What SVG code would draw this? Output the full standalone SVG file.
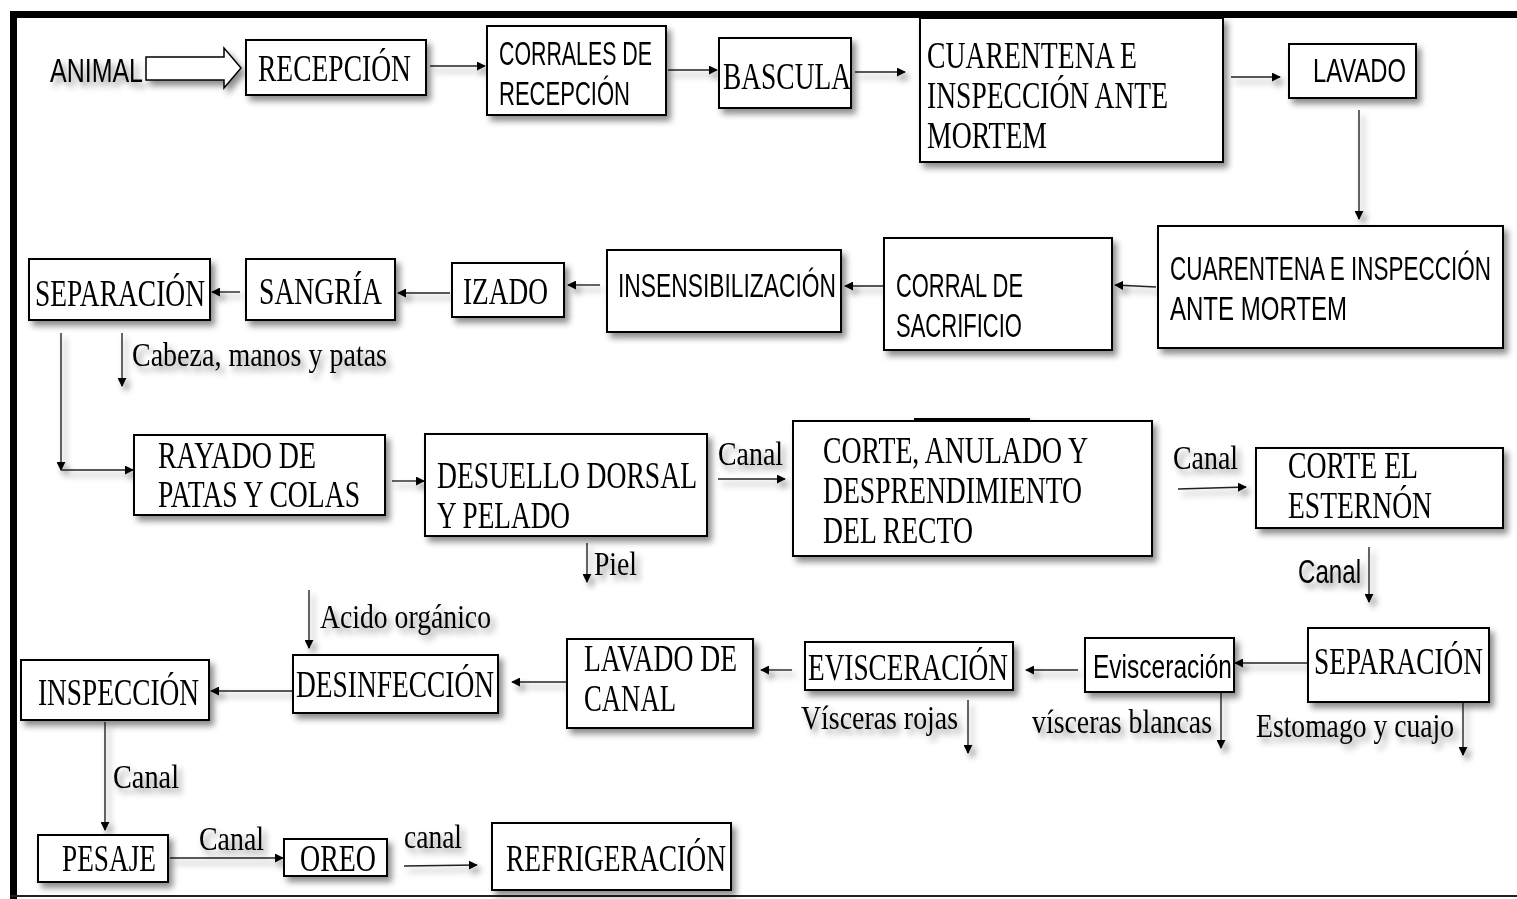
<svg xmlns="http://www.w3.org/2000/svg" width="1517" height="899" viewBox="0 0 1517 899">
<style>
.box{fill:#fff;stroke:#000;stroke-width:2}
.s{font-family:"Liberation Serif","Times New Roman",serif;font-size:38px;fill:#000}
.m{font-family:"Liberation Serif","Times New Roman",serif;font-size:33px;fill:#000}
.a{font-family:"Liberation Sans",Arial,sans-serif;font-size:33px;fill:#000}
.ln{stroke:#222;stroke-width:1.4;fill:none;marker-end:url(#ah)}
</style>
<defs>
<marker id="ah" viewBox="0 0 10 10" refX="9" refY="5" markerWidth="9" markerHeight="9" markerUnits="userSpaceOnUse" orient="auto">
<path d="M0,0 L10,5 L0,10 z" fill="#000"/>
</marker>
<filter id="sh" x="-10%" y="-20%" width="130%" height="150%">
<feDropShadow dx="4" dy="5" stdDeviation="3" flood-color="#000" flood-opacity="0.45"/>
</filter>
</defs>
<rect width="1517" height="899" fill="#fff"/>
<g id="frame">
<rect x="10" y="11" width="1507" height="7" fill="#000"/>
<rect x="10" y="11" width="7" height="888" fill="#000"/>
<rect x="10" y="895" width="1507" height="2" fill="#222"/>
</g>
<g id="connectors" filter="url(#sh)">
<path d="M146,57 H224 V48 L241,68 L224,88 V80 H146 z" fill="#fff" stroke="#000" stroke-width="1.5"/>
<path class="ln" d="M430,66 H485"/>
<path class="ln" d="M668,70 H717"/>
<path class="ln" d="M855,72 H905"/>
<path class="ln" d="M1231,77 H1280"/>
<path class="ln" d="M1359,110 V219"/>
<path class="ln" d="M1156,287 L1115,285"/>
<path class="ln" d="M883,286 H845"/>
<path class="ln" d="M600,285 H568"/>
<path class="ln" d="M450,293 H398"/>
<path class="ln" d="M240,292 H212"/>
<path class="ln" d="M122,333 V386"/>
<path class="ln" d="M61,333 V470"/>
<path class="ln" d="M61,470 H133"/>
<path class="ln" d="M392,481 H424"/>
<path class="ln" d="M587,543 V582"/>
<path class="ln" d="M718,479 H785"/>
<path class="ln" d="M1178,489 L1246,487"/>
<path class="ln" d="M1369,547 V602"/>
<path class="ln" d="M1463,700 V755"/>
<path class="ln" d="M1308,663 H1235"/>
<path class="ln" d="M1221,692 V748"/>
<path class="ln" d="M1078,670 H1026"/>
<path class="ln" d="M968,700 V753"/>
<path class="ln" d="M792,670 H761"/>
<path class="ln" d="M567,682 H512"/>
<path class="ln" d="M309,590 V648"/>
<path class="ln" d="M293,691 H211"/>
<path class="ln" d="M105,722 V830"/>
<path class="ln" d="M170,858 H283"/>
<path class="ln" d="M404,866 L477,865"/>
</g>
<g id="labels" filter="url(#sh)">
<text class="a" x="50" y="82" textLength="93" lengthAdjust="spacingAndGlyphs">ANIMAL</text>
<text class="m" x="132" y="366" textLength="255" lengthAdjust="spacingAndGlyphs">Cabeza, manos y patas</text>
<text class="m" x="594" y="575" textLength="43" lengthAdjust="spacingAndGlyphs">Piel</text>
<text class="m" x="718" y="465" textLength="65" lengthAdjust="spacingAndGlyphs">Canal</text>
<text class="m" x="1173" y="469" textLength="65" lengthAdjust="spacingAndGlyphs">Canal</text>
<text class="a" x="1298" y="583" textLength="63" lengthAdjust="spacingAndGlyphs">Canal</text>
<text class="m" x="1256" y="737" textLength="198" lengthAdjust="spacingAndGlyphs">Estomago y cuajo</text>
<text class="m" x="1032" y="733" textLength="180" lengthAdjust="spacingAndGlyphs">vísceras blancas</text>
<text class="m" x="801" y="729" textLength="157" lengthAdjust="spacingAndGlyphs">Vísceras rojas</text>
<text class="m" x="320" y="628" textLength="171" lengthAdjust="spacingAndGlyphs">Acido orgánico</text>
<text class="m" x="113" y="788" textLength="66" lengthAdjust="spacingAndGlyphs">Canal</text>
<text class="m" x="199" y="850" textLength="65" lengthAdjust="spacingAndGlyphs">Canal</text>
<text class="m" x="404" y="848" textLength="58" lengthAdjust="spacingAndGlyphs">canal</text>
</g>
<g id="n-recepcion" filter="url(#sh)">
<rect class="box" x="246" y="40" width="180" height="55"/>
<text class="s" x="258" y="81" textLength="153" lengthAdjust="spacingAndGlyphs">RECEPCIÓN</text>
</g>
<g id="n-corrales" filter="url(#sh)">
<rect class="box" x="487" y="26" width="179" height="89"/>
<text class="a" x="499" y="65" textLength="153" lengthAdjust="spacingAndGlyphs">CORRALES DE</text>
<text class="a" x="499" y="105" textLength="131" lengthAdjust="spacingAndGlyphs">RECEPCIÓN</text>
</g>
<g id="n-bascula" filter="url(#sh)">
<rect class="box" x="719" y="38" width="132" height="70"/>
<text class="s" x="723" y="89" textLength="128" lengthAdjust="spacingAndGlyphs">BASCULA</text>
</g>
<g id="n-cuarentena1" filter="url(#sh)">
<rect class="box" x="920" y="18" width="303" height="144"/>
<text class="s" x="927" y="68" textLength="210" lengthAdjust="spacingAndGlyphs">CUARENTENA E</text>
<text class="s" x="927" y="108" textLength="241" lengthAdjust="spacingAndGlyphs">INSPECCIÓN ANTE</text>
<text class="s" x="927" y="148" textLength="120" lengthAdjust="spacingAndGlyphs">MORTEM</text>
</g>
<g id="n-lavado" filter="url(#sh)">
<rect class="box" x="1289" y="44" width="127" height="54"/>
<text class="a" x="1313" y="82" textLength="93" lengthAdjust="spacingAndGlyphs">LAVADO</text>
</g>
<g id="n-cuarentena2" filter="url(#sh)">
<rect class="box" x="1158" y="226" width="345" height="122"/>
<text class="a" x="1170" y="280" textLength="321" lengthAdjust="spacingAndGlyphs">CUARENTENA E INSPECCIÓN</text>
<text class="a" x="1170" y="320" textLength="177" lengthAdjust="spacingAndGlyphs">ANTE MORTEM</text>
</g>
<g id="n-corral-sacrificio" filter="url(#sh)">
<rect class="box" x="884" y="238" width="228" height="112"/>
<text class="a" x="896" y="297" textLength="127" lengthAdjust="spacingAndGlyphs">CORRAL DE</text>
<text class="a" x="896" y="337" textLength="126" lengthAdjust="spacingAndGlyphs">SACRIFICIO</text>
</g>
<g id="n-insensibilizacion" filter="url(#sh)">
<rect class="box" x="607" y="250" width="234" height="82"/>
<text class="a" x="618" y="297" textLength="218" lengthAdjust="spacingAndGlyphs">INSENSIBILIZACIÓN</text>
</g>
<g id="n-izado" filter="url(#sh)">
<rect class="box" x="452" y="263" width="112" height="54"/>
<text class="s" x="463" y="304" textLength="85" lengthAdjust="spacingAndGlyphs">IZADO</text>
</g>
<g id="n-sangria" filter="url(#sh)">
<rect class="box" x="246" y="259" width="149" height="61"/>
<text class="s" x="259" y="304" textLength="123" lengthAdjust="spacingAndGlyphs">SANGRÍA</text>
</g>
<g id="n-separacion1" filter="url(#sh)">
<rect class="box" x="29" y="259" width="181" height="61"/>
<text class="s" x="35" y="306" textLength="170" lengthAdjust="spacingAndGlyphs">SEPARACIÓN</text>
</g>
<g id="n-rayado" filter="url(#sh)">
<rect class="box" x="134" y="435" width="251" height="80"/>
<text class="s" x="158" y="468" textLength="158" lengthAdjust="spacingAndGlyphs">RAYADO DE</text>
<text class="s" x="158" y="507" textLength="202" lengthAdjust="spacingAndGlyphs">PATAS Y COLAS</text>
</g>
<g id="n-desuello" filter="url(#sh)">
<rect class="box" x="425" y="434" width="282" height="102"/>
<text class="s" x="437" y="488" textLength="260" lengthAdjust="spacingAndGlyphs">DESUELLO DORSAL</text>
<text class="s" x="437" y="528" textLength="133" lengthAdjust="spacingAndGlyphs">Y PELADO</text>
</g>
<g id="n-corte-anulado" filter="url(#sh)">
<rect x="914" y="418" width="116" height="4" fill="#000"/>
<rect class="box" x="793" y="421" width="359" height="135"/>
<text class="s" x="823" y="463" textLength="265" lengthAdjust="spacingAndGlyphs">CORTE, ANULADO Y</text>
<text class="s" x="823" y="503" textLength="259" lengthAdjust="spacingAndGlyphs">DESPRENDIMIENTO</text>
<text class="s" x="823" y="543" textLength="150" lengthAdjust="spacingAndGlyphs">DEL RECTO</text>
</g>
<g id="n-corte-esternon" filter="url(#sh)">
<rect class="box" x="1256" y="448" width="247" height="80"/>
<text class="s" x="1288" y="478" textLength="130" lengthAdjust="spacingAndGlyphs">CORTE EL</text>
<text class="s" x="1288" y="518" textLength="144" lengthAdjust="spacingAndGlyphs">ESTERNÓN</text>
</g>
<g id="n-separacion2" filter="url(#sh)">
<rect class="box" x="1308" y="628" width="181" height="74"/>
<text class="s" x="1314" y="674" textLength="169" lengthAdjust="spacingAndGlyphs">SEPARACIÓN</text>
</g>
<g id="n-evisceracion-b" filter="url(#sh)">
<rect class="box" x="1085" y="638" width="149" height="54"/>
<text class="a" x="1093" y="678" textLength="139" lengthAdjust="spacingAndGlyphs">Evisceración</text>
</g>
<g id="n-evisceracion-r" filter="url(#sh)">
<rect class="box" x="805" y="642" width="208" height="48"/>
<text class="s" x="808" y="680" textLength="200" lengthAdjust="spacingAndGlyphs">EVISCERACIÓN</text>
</g>
<g id="n-lavado-canal" filter="url(#sh)">
<rect class="box" x="567" y="639" width="186" height="89"/>
<text class="s" x="584" y="671" textLength="153" lengthAdjust="spacingAndGlyphs">LAVADO DE</text>
<text class="s" x="584" y="711" textLength="92" lengthAdjust="spacingAndGlyphs">CANAL</text>
</g>
<g id="n-desinfeccion" filter="url(#sh)">
<rect class="box" x="293" y="655" width="205" height="58"/>
<text class="s" x="296" y="697" textLength="198" lengthAdjust="spacingAndGlyphs">DESINFECCIÓN</text>
</g>
<g id="n-inspeccion" filter="url(#sh)">
<rect class="box" x="21" y="660" width="188" height="60"/>
<text class="s" x="38" y="705" textLength="161" lengthAdjust="spacingAndGlyphs">INSPECCIÓN</text>
</g>
<g id="n-pesaje" filter="url(#sh)">
<rect class="box" x="38" y="835" width="130" height="47"/>
<text class="s" x="62" y="871" textLength="94" lengthAdjust="spacingAndGlyphs">PESAJE</text>
</g>
<g id="n-oreo" filter="url(#sh)">
<rect class="box" x="284" y="839" width="103" height="37"/>
<text class="s" x="300" y="871" textLength="76" lengthAdjust="spacingAndGlyphs">OREO</text>
</g>
<g id="n-refrigeracion" filter="url(#sh)">
<rect class="box" x="492" y="823" width="239" height="67"/>
<text class="s" x="506" y="871" textLength="220" lengthAdjust="spacingAndGlyphs">REFRIGERACIÓN</text>
</g>
</svg>
